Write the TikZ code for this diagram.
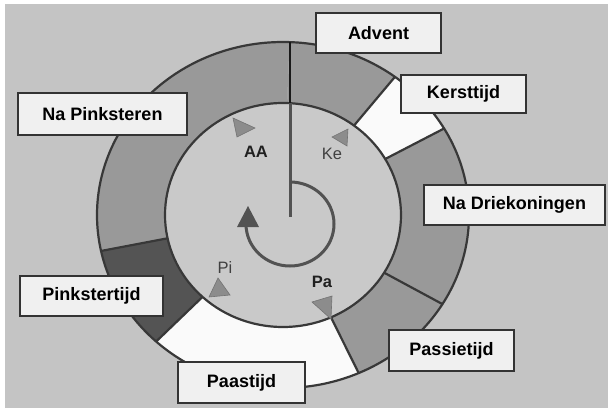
\documentclass[tikz,border=0pt]{standalone}
\usepackage{fontspec}
\setmainfont{Liberation Sans}
\usetikzlibrary{calc}
\begin{document}
\begin{tikzpicture}[x=1pt,y=1pt,
  lbl/.style={draw=black!80,line width=2.2pt,fill=black!6,inner sep=0pt,font=\fontsize{18}{20}\selectfont\bfseries},
  small/.style={font=\fontsize{16.5}{18}\selectfont,text=black!75,inner sep=0pt},
  smallb/.style={font=\fontsize{16.5}{18}\selectfont\bfseries,text=black!88,inner sep=0pt},
  tri/.style={fill=black!45,draw=black!55,line width=0.6pt},
  ringline/.style={draw=black!78,line width=2.2pt},
  ringgray/.style={fill=black!40},
  ringdark/.style={fill=black!67},
  ringwhite/.style={fill=black!2},
  spiral/.style={draw=black!68,line width=3pt},
]
\useasboundingbox (0,0) rectangle (608,408);
\fill[white] (0,0) rectangle (608,408);
\fill[black!23] (5,0) rectangle (608,404);
\coordinate (C) at (283,193);
\newcommand\ringseg[3]{\fill[#3] ($(C)+(#1:186 and 173)$) arc[start angle=#1,end angle=#2,x radius=186,y radius=173] -- ($(C)+(#2:118 and 112)$) arc[start angle=#2,end angle=#1,x radius=118,y radius=112] -- cycle;}
% ring segments
\ringseg{88}{53}{ringgray}
\ringseg{53}{30}{ringwhite}
\ringseg{30}{-31}{ringgray}
\ringseg{-31}{-66}{ringgray}
\ringseg{-66}{-133}{ringwhite}
\ringseg{-133}{-168}{ringdark}
\ringseg{192}{88}{ringgray}
% inner disk
\fill[black!21] (C) ellipse[x radius=118,y radius=112];
% outlines
\draw[ringline] (C) ellipse[x radius=186,y radius=173];
\draw[ringline] (C) ellipse[x radius=118,y radius=112];
\foreach \a in {53,30,-31,-66,-133,192}
  \draw[ringline] ($(C)+(\a:118 and 112)$) -- ($(C)+(\a:186 and 173)$);
\coordinate (top) at (290,305);
\coordinate (rim) at (290,366);
\draw[draw=black!90,line width=2.8pt] (top) -- (rim);
% centre line and spiral
\coordinate (mid) at (290,191);
\draw[spiral] (top) -- (mid);
\draw[spiral] (290,226) arc[start angle=90,end angle=-180,x radius=44,y radius=42];
\fill[black!68] (237,181) -- (259,181) -- (248,202) -- cycle;
% triangles
\filldraw[tri] (233,290) -- (255,280) -- (237,271) -- cycle;
\filldraw[tri] (332,271) -- (348,279) -- (347,262) -- cycle;
\filldraw[tri] (218,130) -- (209,111) -- (230,113) -- cycle;
\filldraw[tri] (312,106) -- (332,112) -- (331,89) -- cycle;
% small labels
\node[smallb] (aa) at (256,256) {AA};
\node[small] (ke) at (332,254) {Ke};
\node[small] (pi) at (225,140) {Pi};
\node[smallb] (pa) at (322,126) {Pa};
% season labels
\node[lbl,minimum width=125pt,minimum height=40pt] (advent) at (378.5,375) {Advent};
\node[lbl,minimum width=125pt,minimum height=38pt] (kerst) at (463.5,314) {Kersttijd};
\node[lbl,minimum width=181pt,minimum height=40pt] (drie) at (514.5,203) {Na Driekoningen};
\node[lbl,minimum width=125pt,minimum height=41pt] (passie) at (451.5,57.5) {Passietijd};
\node[lbl,minimum width=127pt,minimum height=41pt] (paas) at (241.5,25.5) {Paastijd};
\node[lbl,minimum width=143pt,minimum height=40pt] (pinkster) at (91.5,112) {Pinkstertijd};
\node[lbl,minimum width=169pt,minimum height=42pt] (napink) at (102.5,294) {Na Pinksteren};
\end{tikzpicture}
\end{document}
